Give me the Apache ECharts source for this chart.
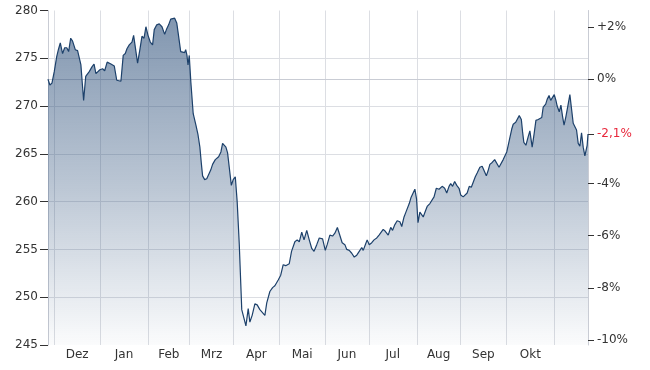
<!DOCTYPE html>
<html><head><meta charset="utf-8">
<script src="https://cdn.jsdelivr.net/npm/echarts@6/dist/echarts.min.js"></script>
<style>html,body{margin:0;padding:0;background:#fff}#c{width:650px;height:370px}</style>
</head><body><div id="c"></div>
<script>
// trading-day index (weekdays from 27 Nov 2024) of each vertex
const dayIdx = [0,0.9,1.9,3.0,4.2,5.1,5.9,7.0,8.0,9.0,9.9,10.9,11.8,13.1,14.2,15.0,15.8,16.6,17.1,18.1,19.8,21.1,22.1,23.0,24.9,26.2,27.2,28.4,29.1,30.2,31.8,33.0,33.9,35.0,36.1,37.1,37.9,39.0,40.3,41.1,41.9,43.0,44.1,45.1,46.1,47.0,48.0,49.1,50.2,51.0,52.2,53.4,54.7,56.0,57.0,57.9,58.9,59.8,60.8,61.8,62.7,63.7,64.6,65.6,66.1,66.7,67.2,67.8,68.6,69.7,71.0,72.0,72.9,73.6,74.2,75.2,76.2,77.1,78.1,79.0,79.7,80.3,81.1,81.9,83.0,83.8,84.6,85.4,86.2,87.0,88.0,88.9,89.9,90.8,91.8,93.0,93.7,95.0,96.1,96.9,98.0,99.3,100.4,101.7,104.1,105.0,106.5,107.8,108.9,110.5,111.7,112.9,114.1,115.8,116.9,118.5,119.6,120.6,121.8,122.9,124.2,125.4,126.6,127.7,129.0,130.2,131.8,133.1,134.0,135.3,136.6,137.7,138.9,139.8,141.2,142.5,143.4,144.6,145.8,147.0,148.2,149.4,150.6,151.3,152.5,153.2,154.2,155.4,156.5,157.8,158.9,159.8,160.9,161.9,163.3,164.5,165.4,166.5,167.6,168.9,169.8,170.9,171.8,173.4,174.2,175.0,176.1,176.9,177.6,178.5,180.1,181.3,182.0,183.3,185.3,186.4,187.7,189.2,190.4,191.4,192.5,193.3,194.2,195.2,196.2,197.3,198.1,199.3,200.1,201.2,202.2,203.2,204.1,205.1,206.0,207.3,208.4,209.2,210.4,211.2,212.1,213.2,214.4,215.3,216.5,217.4,218.5,219.3,220.2,220.9,221.7,222.6,223.3,224.5,225.3,226.2,227.2,227.8,228.4,229.4,230.5,231.3,232.4,233.4,234.2,235.3,236.1,237.0,237.7,238.9,239.6,240.5,241.3,242.0,243.0,243.8,244.4,245.4,246.2,247.0,247.7,248.6,249.6,250.5,251.3,252.1,252.9,253.7,254.5,255.3,256.1,256.9,257.7,258.8,259.2];
const price = [272.8,272.2,272.4,273.6,275.2,276.0,276.6,275.5,276.1,276.1,275.7,277.1,276.8,275.9,275.8,275.8,274.3,272.0,270.6,273.1,273.6,274.1,274.4,273.4,273.8,273.9,273.7,274.6,274.7,274.4,274.2,272.7,272.9,272.6,275.3,275.5,276.0,276.4,276.7,277.4,277.3,274.5,275.9,277.3,277.1,278.3,277.4,276.7,276.4,278.0,278.5,278.6,278.3,277.5,278.1,278.5,279.1,279.3,279.2,278.7,277.3,275.7,275.5,275.6,275.9,275.3,274.3,275.3,272.4,269.2,268.0,267.0,265.7,264.0,262.7,262.3,262.4,262.3,263.3,263.9,263.8,264.4,264.4,264.7,265.2,266.1,266.3,265.7,265.1,265.0,261.7,262.3,262.6,260.0,255.6,248.7,248.7,247.0,248.8,247.4,248.1,249.3,249.2,248.7,248.1,249.4,250.6,251.0,251.2,251.8,252.3,253.4,253.3,253.5,254.8,255.8,256.0,255.8,256.8,256.0,257.0,256.0,255.1,254.8,255.5,256.2,256.1,254.9,255.5,256.5,256.4,256.7,257.3,257.3,255.7,255.5,255.0,254.9,254.6,254.2,254.4,254.8,255.2,254.9,255.6,256.0,255.5,255.7,256.0,256.2,256.5,256.4,257.1,256.9,256.5,257.3,257.0,257.6,258.0,257.9,257.4,258.4,258.9,259.8,260.4,260.5,261.3,260.3,257.8,258.9,258.4,259.1,259.5,259.8,260.5,261.4,261.3,261.6,261.4,260.9,261.6,261.9,261.6,262.1,261.7,261.4,260.7,260.5,260.3,260.9,261.6,261.5,261.7,262.6,263.0,263.6,263.7,263.6,262.7,263.2,263.9,264.1,264.4,264.2,263.6,263.8,264.4,264.3,265.2,265.9,266.7,267.6,268.1,268.3,268.3,269.0,268.6,267.3,266.2,265.9,266.8,267.4,265.7,267.2,268.5,268.6,268.5,268.8,269.9,270.2,270.7,271.1,270.6,270.8,271.2,270.6,270.0,269.4,270.1,268.9,268.0,268.9,270.1,271.2,271.0,268.2,268.4,267.5,266.1,265.8,267.2,265.7,264.8,265.9,267.07];
const monthStarts = [3,25,48,68,89,111,133,154,177,198,220,243];
const monthLabels = ['Dez','Jan','Feb','Mrz','Apr','Mai','Jun','Jul','Aug','Sep','Okt'];
const priceTicks = [245,250,255,260,265,270,275,280];
const pctTicks = [2,0,-4,-6,-8,-10];

const refPrice = price[0];
const lastPrice = price[price.length-1];
const change = Math.round((lastPrice/refPrice-1)*1000)/10;
const labelPos = monthLabels.map((m,i)=>(monthStarts[i]+monthStarts[i+1])/2);
const yMin = priceTicks[0], yMax = priceTicks[priceTicks.length-1];
const pMin = (yMin/refPrice-1)*100, pMax = (yMax/refPrice-1)*100;
const rightVals = pctTicks.concat([change]).sort((a,b)=>b-a);

const font = {fontFamily:'DejaVu Sans', fontSize:12, color:'#333'};
const chart = echarts.init(document.getElementById('c'), null, {renderer:'canvas'});
chart.setOption({
  animation:false,
  grid:{left:48, right:62, top:10.5, bottom:25},
  xAxis:{
    type:'value', min:0, max:dayIdx[dayIdx.length-1],
    axisLine:{show:true, lineStyle:{color:'#c9ccd4', width:1}},
    axisTick:{show:false, customValues:monthStarts},
    splitLine:{show:true, lineStyle:{color:'#dcdee3', width:1}},
    axisLabel:Object.assign({customValues:labelPos, margin:4,
      formatter:v=>{const i=labelPos.findIndex(p=>Math.abs(p-v)<1e-6);return i>=0?monthLabels[i]:'';}}, font)
  },
  yAxis:[{
    type:'value', min:yMin, max:yMax, interval:5, position:'left',
    axisLine:{show:true, lineStyle:{color:'#c9ccd4'}},
    axisTick:{show:true, length:8, lineStyle:{color:'#333'}},
    splitLine:{show:true, lineStyle:{color:['transparent','#dcdee3','#dcdee3','#dcdee3','#dcdee3','#dcdee3','#dcdee3','transparent'], width:1}},
    axisLabel:Object.assign({margin:10}, font)
  },{
    type:'value', min:pMin, max:pMax, position:'right',
    axisLine:{show:true, lineStyle:{color:'#c9ccd4'}},
    axisTick:{show:true, length:6, customValues:rightVals, lineStyle:{color:'#333'}},
    splitLine:{show:false},
    axisLabel:Object.assign({margin:9, customValues:rightVals,
      formatter:v=>{
        if(Math.abs(v-change)<1e-6) return '{r|'+(v>0?'+':'')+String(v).replace('.',',')+'%}';
        return (v>0?'+':'')+String(v).replace('.',',')+'%';
      },
      rich:{r:{color:'#e8283c', fontFamily:'DejaVu Sans', fontSize:12}}}, font)
  }],
  series:[{
    type:'line', yAxisIndex:0, symbol:'none', smooth:false,
    data:dayIdx.map((d,i)=>[d,price[i]]),
    lineStyle:{color:'#1d416b', width:1.2},
    areaStyle:{opacity:1, color:new echarts.graphic.LinearGradient(0,0,0,1,[
      {offset:0,color:'rgba(38,74,118,0.58)'},
      {offset:0.5,color:'rgba(38,74,118,0.32)'},
      {offset:1,color:'rgba(38,74,118,0.02)'}])}
  }]
});
</script></body></html>
